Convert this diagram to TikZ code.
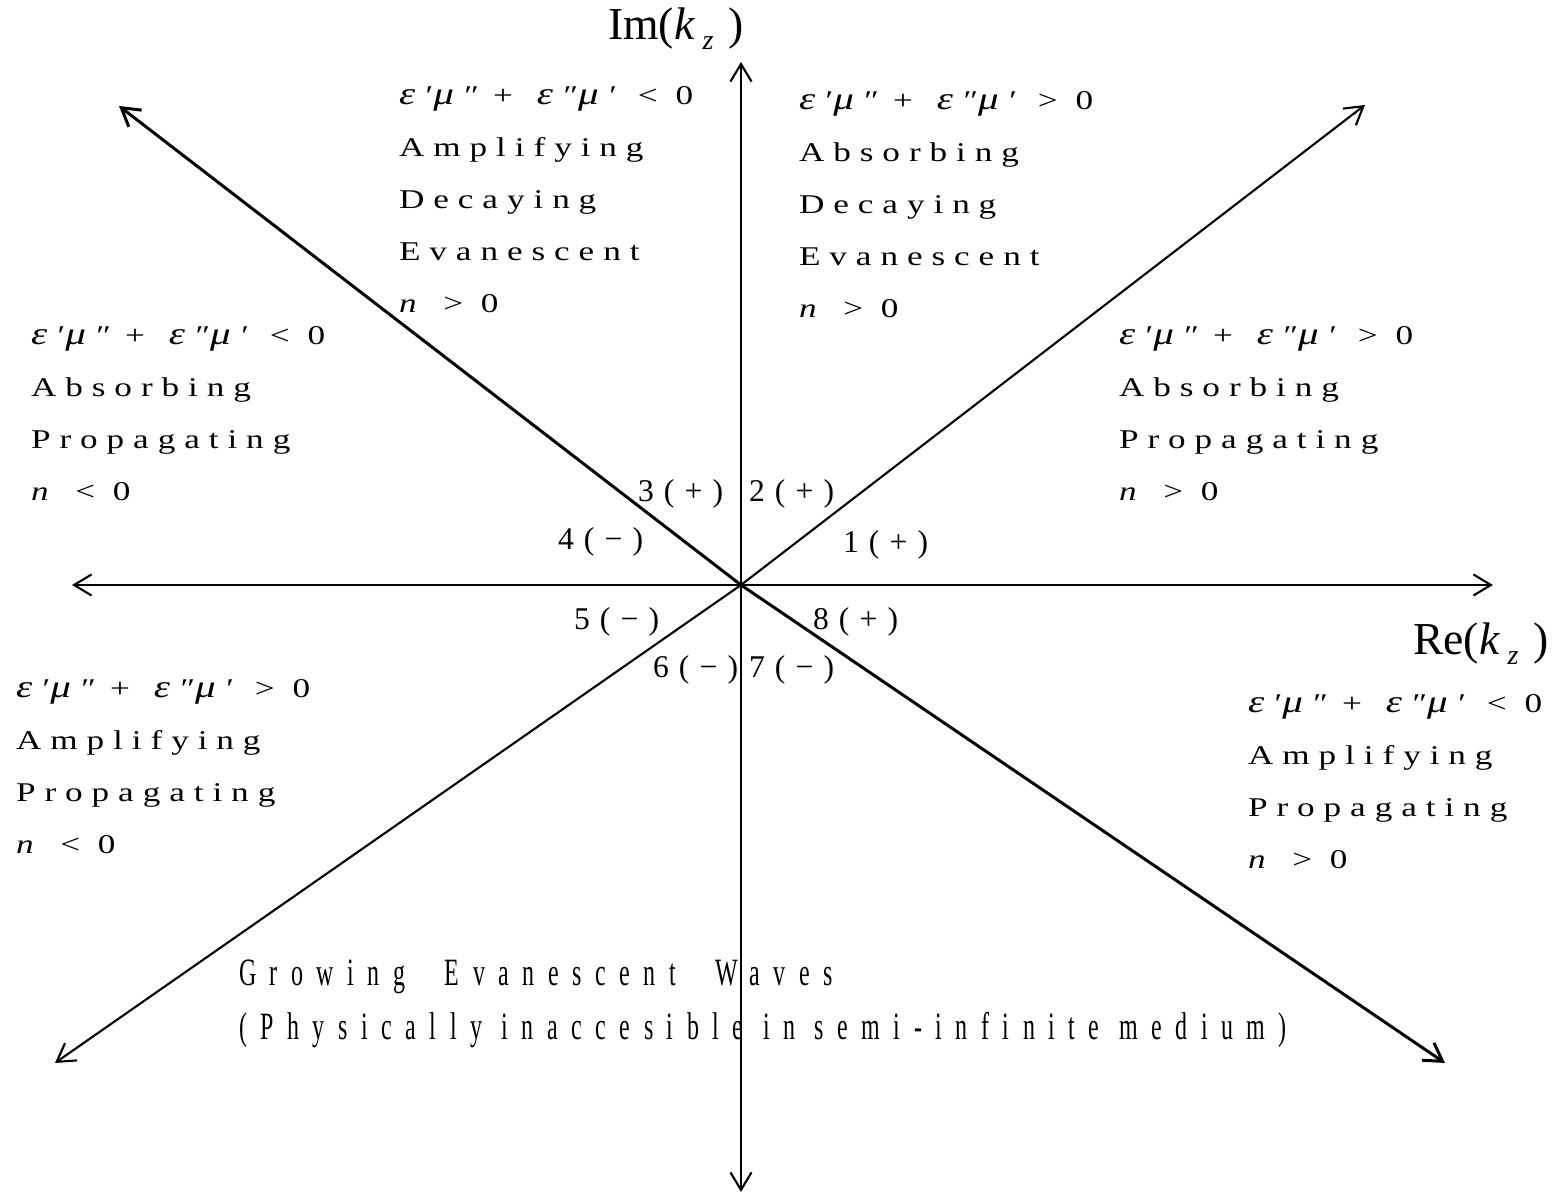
\documentclass[tikz,border=0pt]{standalone}
\usepackage{fontspec}
\setmainfont{Liberation Serif}
\usetikzlibrary{arrows.meta}
\tikzset{every picture/.style={line width=0.6pt}}
\newcommand{\gk}[1]{{\fontsize{9}{9}\selectfont\textit{#1}}}
\newcommand{\epsmu}[1]{\gk{ε}′\gk{μ}″\hspace{0.14cm}+\hspace{0.24cm}\gk{ε}″\gk{μ}′\hspace{0.21cm}#1 0}
\newcommand{\kz}{\textit{k}\,\raisebox{-0.45ex}{\fontsize{8}{8}\selectfont\textit{z}}\,\,}

\begin{document}
\begin{tikzpicture}[
    axis/.style={{Straight Barb[length=5pt,width=6pt]}-{Straight Barb[length=5pt,width=6pt]}},
    region/.style={anchor=base west, inner sep=0pt, font=\fontsize{7.7}{9}\selectfont\addfontfeature{FakeStretch=1.3,LetterSpace=33}},
    sector/.style={anchor=base west, inner sep=0pt, font=\fontsize{9}{10}\selectfont\addfontfeature{LetterSpace=32}},
    axlabel/.style={anchor=base west, inner sep=0pt, font=\fontsize{13}{14}\selectfont},
    note/.style={anchor=base west, inner sep=0pt, font=\fontsize{11}{12}\selectfont\addfontfeature{FakeStretch=0.62,LetterSpace=35}}]
    \useasboundingbox (-7.41,-6.08) rectangle (8.22,5.85);
    % Achsen
    \coordinate (O) at (0,0);
    \coordinate (W) at (-6.69,0);
    \coordinate (E) at (7.52,0);
    \coordinate (N) at (0,5.23);
    \coordinate (S) at (0,-6.07);
    \coordinate (NW) at (-6.22,4.79);
    \coordinate (NE) at (6.24,4.80);
    \coordinate (SW) at (-6.86,-4.78);
    \coordinate (SE) at (7.04,-4.78);
    \draw[axis] (W) -- (E);
    \draw[axis] (N) -- (S);
    \draw[axis, line width=0.85pt] (NW) -- (O) -- (SE);
    \draw[axis] (NE) -- (O) -- (SW);
    \node[axlabel] (im) at (-1.34,5.45) {Im(\kz)};
    \node[axlabel] (re) at (6.71,-0.70) {Re(\kz)};
    % Sektoren
    \node[sector] (s1) at (1.01,0.32) {1(+)};
    \node[sector] (s2) at (0.07,0.83) {2(+)};
    \node[sector] (s3) at (-1.04,0.83) {3(+)};
    \node[sector] (s4) at (-1.84,0.35) {4(−)};
    \node[sector] (s5) at (-1.68,-0.45) {5(−)};
    \node[sector] (s6) at (-0.89,-0.93) {6(−)};
    \node[sector] (s7) at (0.07,-0.93) {7(−)};
    \node[sector] (s8) at (0.71,-0.45) {8(+)};
    % Bereiche
    \foreach \t [count=\i] in {\epsmu{<}, Amplifying, Decaying, Evanescent, \textit{n} > 0}
        \node[region] (ul-\i) at (-3.43,{4.80-0.52*(\i-1)}) {\t};
    \foreach \t [count=\i] in {\epsmu{>}, Absorbing, Decaying, Evanescent, \textit{n} > 0}
        \node[region] (ur-\i) at (0.57,{4.75-0.52*(\i-1)}) {\t};
    \foreach \t [count=\i] in {\epsmu{<}, Absorbing, Propagating, \textit{n} < 0}
        \node[region] (l-\i) at (-7.11,{2.40-0.52*(\i-1)}) {\t};
    \foreach \t [count=\i] in {\epsmu{>}, Absorbing, Propagating, \textit{n} > 0}
        \node[region] (r-\i) at (3.77,{2.40-0.52*(\i-1)}) {\t};
    \foreach \t [count=\i] in {\epsmu{>}, Amplifying, Propagating, \textit{n} < 0}
        \node[region] (ll-\i) at (-7.26,{-1.13-0.52*(\i-1)}) {\t};
    \foreach \t [count=\i] in {\epsmu{<}, Amplifying, Propagating, \textit{n} > 0}
        \node[region] (lr-\i) at (5.06,{-1.28-0.52*(\i-1)}) {\t};
    % Hinweis unten
    \node[note] (grow) at (-5.03,-4.01) {Growing\hspace{0.2cm} Evanescent\hspace{0.2cm} Waves};
    \node[note] (phys) at (-5.03,-4.55) {(Physically inaccesible in semi-infinite medium)};
\end{tikzpicture}
\end{document}
